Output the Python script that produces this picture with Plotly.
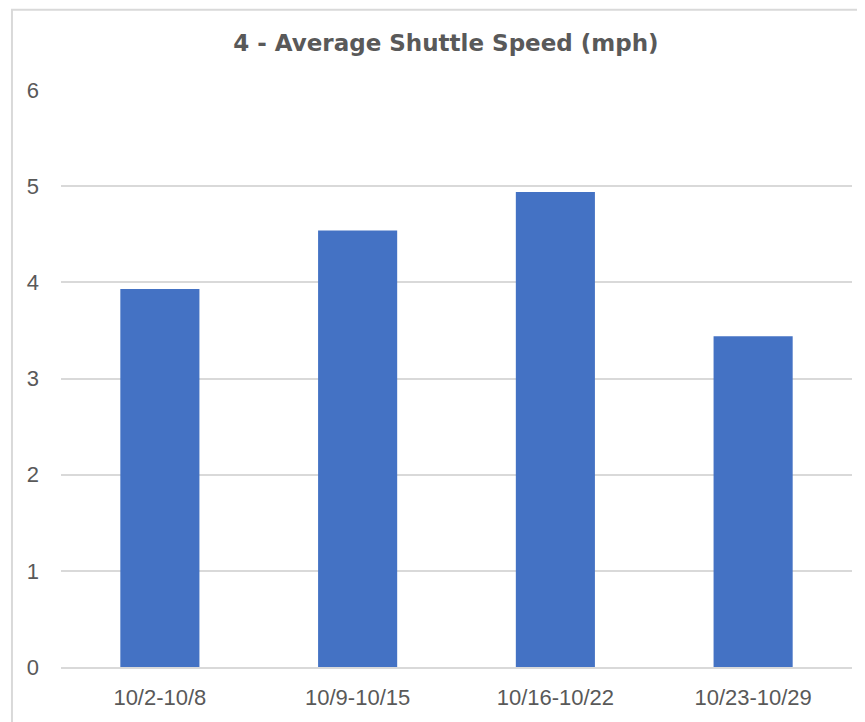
import plotly.graph_objects as go

# data
weeks = ["10/2-10/8", "10/9-10/15", "10/16-10/22", "10/23-10/29"]
avg_speed = [3.93, 4.54, 4.94, 3.44]
y_ticks = [0, 1, 2, 3, 4, 5, 6]

fig = go.Figure()

fig.add_trace(go.Bar(
    x=weeks,
    y=avg_speed,
    marker=dict(color="#4472C4", line=dict(width=0)),
    hoverinfo="x+y",
))

# the page body adds an 8px margin, so the figure is sized to 857x714
fig.update_layout(
    width=857,
    height=714,
    margin=dict(l=53, r=13, t=82, b=51),
    paper_bgcolor="white",
    plot_bgcolor="white",
    bargap=0.6,
    showlegend=False,
    font=dict(family="Liberation Sans, Arial, sans-serif", color="#595959"),
    title=dict(
        text="<b>4 - Average Shuttle Speed (mph)</b>",
        x=0.511,
        xanchor="center",
        y=0.951,
        yanchor="middle",
        font=dict(family="DejaVu Sans, sans-serif", size=23, color="#595959"),
    ),
    # light grey chart border (runs off the right and bottom edges)
    shapes=[dict(
        type="rect", xref="paper", yref="paper",
        x0=-0.062, x1=1.2, y0=-0.3, y1=1.139,
        line=dict(color="#D9D9D9", width=2),
        fillcolor="rgba(0,0,0,0)",
        layer="below",
    )],
)

fig.update_xaxes(
    showgrid=False,
    showline=True,
    linecolor="#D9D9D9",
    linewidth=2,
    ticks="",
    ticklabelstandoff=10,
    tickfont=dict(size=22, color="#595959"),
)

fig.update_yaxes(
    range=[0, 6],
    tickvals=y_ticks,
    showgrid=True,
    gridcolor="#D9D9D9",
    gridwidth=1.5,
    zeroline=False,
    showline=False,
    ticks="",
    ticklabelstandoff=21,
    tickfont=dict(size=22, color="#595959"),
)

fig.write_html("out.html")
